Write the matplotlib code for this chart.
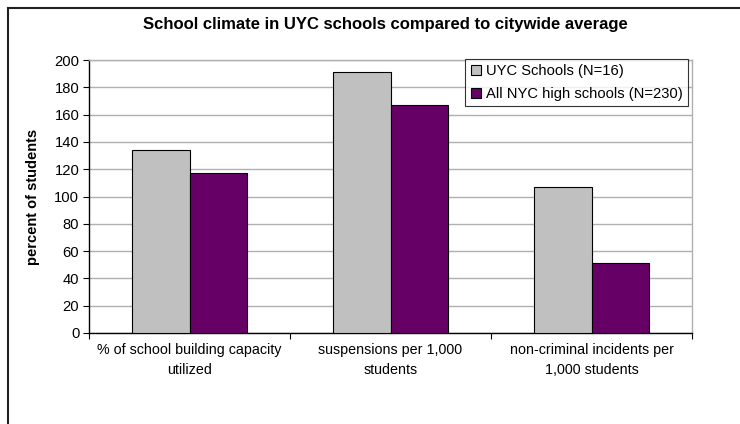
import matplotlib
matplotlib.use("Agg")
import matplotlib.pyplot as plt
import numpy as np
from matplotlib.lines import Line2D

categories = ["% of school building capacity\nutilized",
              "suspensions per 1,000\nstudents",
              "non-criminal incidents per\n1,000 students"]
uyc = [134, 191, 107]
nyc = [117, 167, 51]
series_names = ["UYC Schools (N=16)", "All NYC high schools (N=230)"]
colors = ["#C0C0C0", "#660066"]
yticks = list(range(0, 201, 20))

plt.rcParams['font.family'] = ['Liberation Sans', 'DejaVu Sans']

fig = plt.figure(figsize=(7.4, 4.24), dpi=100)
fig.patch.set_facecolor("white")
ax = fig.add_axes([89/740, 1-333/424, (692-89)/740, (333-60)/424])

x = np.arange(len(categories))
w = 0.2857
ax.bar(x - w/2, uyc, w, color=colors[0], edgecolor="black", linewidth=0.8, zorder=3)
ax.bar(x + w/2, nyc, w, color=colors[1], edgecolor="black", linewidth=0.8, zorder=3)

ax.set_xlim(-0.5, len(categories) - 0.5)
ax.set_ylim(0, 200)
ax.set_yticks(yticks)
ax.set_yticklabels([str(v) for v in yticks], fontsize=10.6)
ax.yaxis.grid(True, color="#B0B0B0", linewidth=1, zorder=0)
ax.set_axisbelow(True)

ax.set_xticks(np.arange(len(categories) + 1) - 0.5)
ax.set_xticklabels([])
ax.set_xticks(x, minor=True)
ax.set_xticklabels(categories, minor=True, fontsize=10.3, linespacing=1.55)
ax.tick_params(axis="x", which="minor", length=0, pad=7)
ax.tick_params(axis="x", which="major", length=4, direction="out", color="black")
ax.tick_params(axis="y", length=4, direction="out", color="black", pad=3)

for s in ["left", "bottom"]:
    ax.spines[s].set_color("black")
    ax.spines[s].set_linewidth(1)
for s in ["top", "right"]:
    ax.spines[s].set_color("#B0B0B0")
    ax.spines[s].set_linewidth(1)

ax.set_ylabel("percent of students", fontsize=10.5, fontweight="bold", va="center")
ax.yaxis.set_label_coords((33-89)/603, (333-197)/273)

fig.text(385/740, 1-25/424, "School climate in UYC schools compared to citywide average",
         ha="center", va="center", fontsize=12, fontweight="bold")

handles = [Line2D([0], [0], marker="s", linestyle="none", markersize=6.5,
                  markerfacecolor=c, markeredgecolor="black", markeredgewidth=0.8)
           for c in colors]
leg = ax.legend(handles, series_names, loc="upper right",
                bbox_to_anchor=(688/740, 1-59/424), bbox_transform=fig.transFigure,
                fontsize=10.6, frameon=True, fancybox=False, handlelength=0.8,
                handletextpad=0.3, borderpad=0.35, labelspacing=0.6,
                borderaxespad=0)
leg.get_frame().set_edgecolor("black")
leg.get_frame().set_linewidth(0.8)
leg.set_zorder(5)

fig.add_artist(Line2D([8/740, 1], [1-8/424, 1-8/424], transform=fig.transFigure,
                      color="#202020", linewidth=1.5))
fig.add_artist(Line2D([8/740, 8/740], [0, 1-8/424], transform=fig.transFigure,
                      color="#202020", linewidth=1.5))

fig.savefig("out.png", dpi=100)
